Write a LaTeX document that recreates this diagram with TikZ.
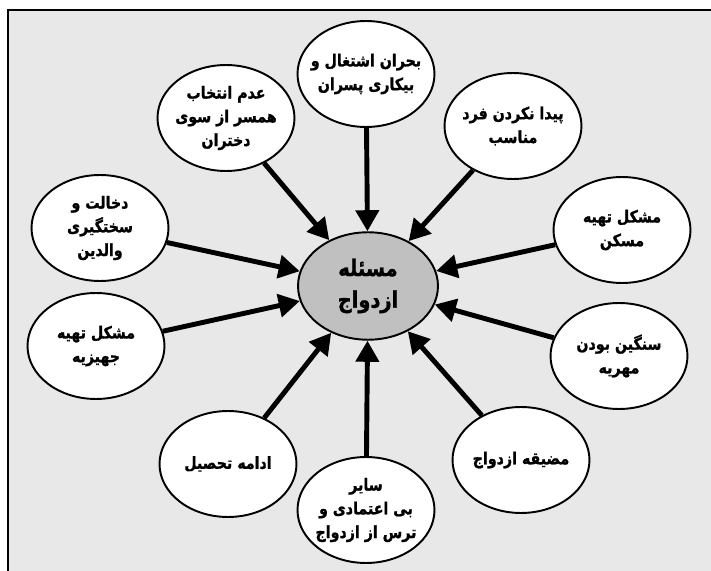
\documentclass[tikz,border=0pt]{standalone}
\usepackage{fontspec}
\usepackage{tikz}
\usetikzlibrary{shapes.geometric,arrows.meta}
\TeXXeTstate=1
\newfontfamily\arabicfont[Script=Arabic,FakeStretch=0.85,FakeBold=1.2]{DejaVu Sans}
\newcommand{\fa}[1]{{\arabicfont\bfseries\beginR #1\endR}}
\definecolor{framegray}{HTML}{E8E8E8}
\definecolor{coregray}{HTML}{C0C0C0}

\begin{document}
\begin{tikzpicture}[x=0.02cm, y=-0.02cm,
    cause/.style={ellipse, draw, line width=1.1pt, fill=white, inner xsep=-8pt, inner ysep=-2pt, minimum width=2.74cm, minimum height=2.12cm, align=center, font=\fontsize{9.5}{13.5}\selectfont},
    core/.style={ellipse, draw, line width=1.1pt, fill=coregray, inner xsep=-8pt, inner ysep=-2pt, minimum width=2.8cm, minimum height=2.15cm, align=center, font=\fontsize{13}{18}\selectfont},
    arrow/.style={-{Triangle[length=12pt, width=13pt]}, line width=2.8pt, black}
]
\clip (0,0) rectangle (711,571);

% Frame
\draw[line width=1.2pt, fill=framegray] (8,10) rectangle (730,590);

% Centre
\node[core] (marriage) at (368,286) {\fa{مسئله}\\\fa{ازدواج}};

% Causes
\node[cause] (jobs) at (366,74) {\fa{بحران اشتغال و}\\\fa{بیکاری پسران}};
\node[cause] (choice) at (226,118) {\fa{عدم انتخاب}\\\fa{همسر از سوی}\\\fa{دختران}};
\node[cause] (match) at (513,126) {\fa{پیدا نکردن فرد}\\\fa{مناسب}};
\node[cause] (parents) at (100,228) {\fa{دخالت و}\\\fa{سختگیری}\\\fa{والدین}};
\node[cause] (housing) at (622,230) {\fa{مشکل تهیه}\\\fa{مسکن}};
\node[cause] (dowry) at (96,346) {\fa{مشکل تهیه}\\\fa{جهیزیه}};
\node[cause] (mahr) at (619,356) {\fa{سنگین بودن}\\\fa{مهریه}};
\node[cause] (study) at (228,464) {\fa{ادامه تحصیل}};
\node[cause] (money) at (521,460) {\fa{مضیقه ازدواج}};
\node[cause] (other) at (366,510) {\fa{سایر}\\\fa{بی اعتمادی و}\\\fa{ترس از ازدواج}};

% Arrows
\foreach \src in {jobs,choice,match,parents,housing,dowry,mahr,study,money,other}
  \draw[arrow] (\src) -- (marriage);

\end{tikzpicture}
\end{document}
